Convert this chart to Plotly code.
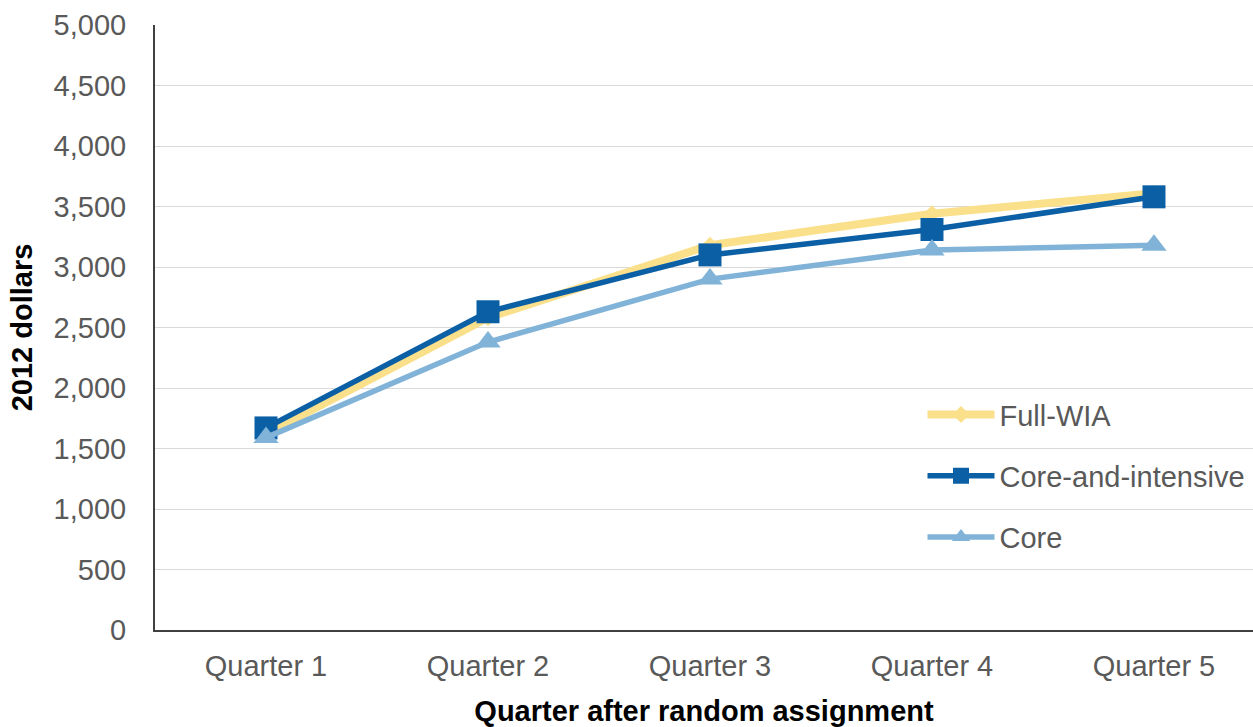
import plotly.graph_objects as go

quarters = ["Quarter 1", "Quarter 2", "Quarter 3", "Quarter 4", "Quarter 5"]
full_wia = [1620, 2580, 3180, 3440, 3610]
core_and_intensive = [1670, 2630, 3100, 3310, 3580]
core = [1590, 2380, 2900, 3140, 3180]

FONT = "Liberation Sans, Arial, sans-serif"
TICK_COLOR = "#595959"
SIZE = 29

fig = go.Figure()

fig.add_trace(go.Scatter(
    x=quarters, y=full_wia, name="Full-WIA", mode="lines+markers",
    line=dict(color="#FBE08C", width=8),
    marker=dict(symbol="diamond", size=13, color="#FBE08C"),
    legendgroup="a",
))
fig.add_trace(go.Scatter(
    x=quarters, y=core_and_intensive, name="Core-and-intensive", mode="lines+markers",
    line=dict(color="#0B5FA5", width=5.5),
    marker=dict(symbol="square", size=23, color="#0B5FA5"),
    legendgroup="b",
))
fig.add_trace(go.Scatter(
    x=quarters, y=core, name="Core", mode="lines+markers",
    line=dict(color="#80B3D7", width=5.5),
    marker=dict(symbol="triangle-up", size=22, color="#80B3D7"),
    legendgroup="c",
))

fig.update_layout(
    width=1253, height=727,
    margin=dict(l=155, r=0, t=25, b=97),
    paper_bgcolor="white", plot_bgcolor="white",
    font=dict(family=FONT, size=SIZE, color=TICK_COLOR),
    legend=dict(
        x=0.699, y=0.398, xanchor="left", yanchor="top",
        font=dict(size=SIZE, color=TICK_COLOR),
        traceorder="grouped", tracegroupgap=20.5,
        itemwidth=67, bgcolor="rgba(0,0,0,0)",
    ),
    xaxis=dict(
        type="category", range=[-0.5, 4.446],
        showline=True, linecolor="#404040", linewidth=2,
        showgrid=False, ticks="outside", ticklen=9, tickcolor="rgba(0,0,0,0)",
        tickfont=dict(size=SIZE, color=TICK_COLOR),
        title=dict(text="<b>Quarter after random assignment</b>",
                   font=dict(size=SIZE, color="black"), standoff=22),
    ),
    yaxis=dict(
        range=[0, 5000], dtick=500, tickformat=",d",
        showline=True, linecolor="#404040", linewidth=2,
        showgrid=True, gridcolor="#D9D9D9", gridwidth=1,
        zeroline=False,
        ticks="outside", ticklen=21, tickcolor="rgba(0,0,0,0)",
        tickfont=dict(size=SIZE, color=TICK_COLOR),
        title=dict(text="<b>2012 dollars</b>",
                   font=dict(size=SIZE, color="black"), standoff=12),
    ),
)

fig.write_html("out.html")
